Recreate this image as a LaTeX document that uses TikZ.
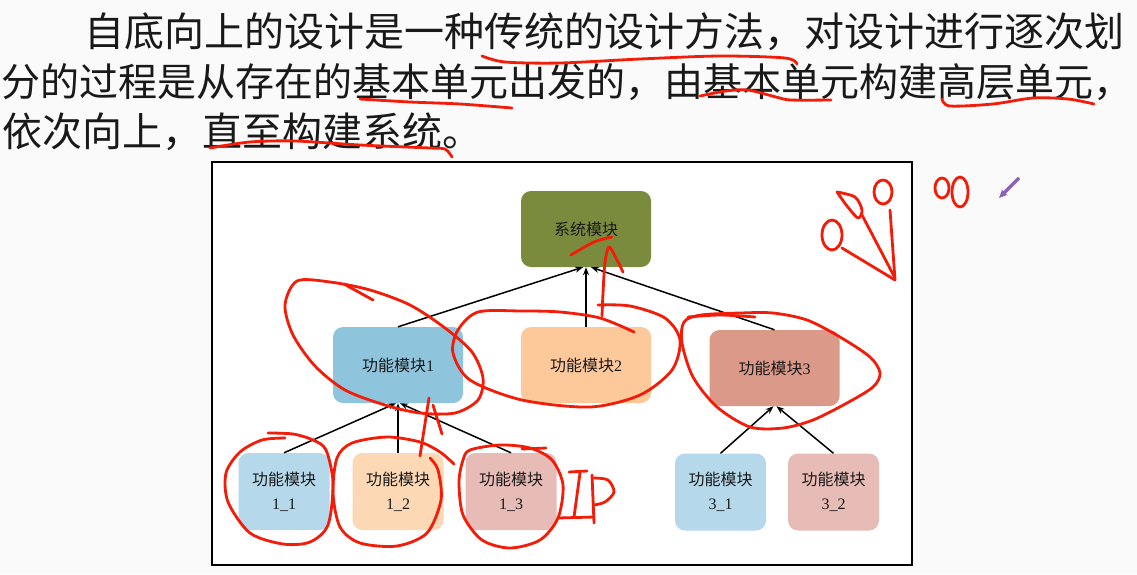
\documentclass[tikz,border=0pt]{standalone}
\usepackage{fontspec}
\setmainfont{Liberation Serif}
\newfontfamily\cjk{Noto Sans CJK SC}
\usetikzlibrary{arrows.meta}
\definecolor{inkred}{RGB}{242,28,8}
\definecolor{sysc}{HTML}{7A8B3E}
\definecolor{mA}{HTML}{8FC5DC}
\definecolor{mB}{HTML}{FDC99B}
\definecolor{mC}{HTML}{DB998A}
\definecolor{sA}{HTML}{B5D8EA}
\definecolor{sB}{HTML}{FDD8B5}
\definecolor{sC}{HTML}{E7BBB6}
\definecolor{penpurple}{HTML}{8A62B8}
\definecolor{slidebg}{HTML}{FAFAFA}
\begin{document}
\begin{tikzpicture}[x=1pt,y=-1pt,
  toptext/.style={inner sep=0pt, anchor=base west, text=black!90, font=\fontsize{40}{40}\selectfont\cjk},
  modbox/.style={rounded corners=10pt, minimum width=130pt, minimum height=76pt, inner sep=0pt, align=center, text=black!90, font=\fontsize{16}{24}\selectfont},
  subbox/.style={rounded corners=10pt, minimum width=91pt, minimum height=77pt, inner sep=0pt, align=center, text=black!90, font=\fontsize{16}{24}\selectfont},
  conn/.style={draw=black, line width=1.5pt, -{Stealth[length=8pt,width=6pt]}},
  ink/.style={draw=inkred, line width=2.8pt, line cap=round, line join=round}]
\useasboundingbox (0,0) rectangle (1137,574);
\fill[slidebg] (0,0) rectangle (1137,574);

% slide text
\node[toptext] (l1) at (84,46) {自底向上的设计是一种传统的设计方法，对设计进行逐次划};
\node[toptext, font=\fontsize{39}{39}\selectfont\cjk] (l2) at (1,96) {分的过程是从存在的基本单元出发的，由基本单元构建高层单元，};
\node[toptext] (l3) at (2,146) {依次向上，直至构建系统。};

% frame
\node[draw=black, line width=1.5pt, fill=white, minimum width=700pt, minimum height=403pt, inner sep=0pt] (frame) at (562,363.5) {};

% boxes
\node[modbox, fill=sysc] (sys) at (586,229) {{\cjk 系统模块}};
\node[modbox, fill=mA] (m1) at (398,365) {{\cjk 功能模块}1};
\node[modbox, fill=mB] (m2) at (586,365) {{\cjk 功能模块}2};
\node[modbox, fill=mC] (m3) at (774.5,368) {{\cjk 功能模块}3};
\node[subbox, fill=sA] (b11) at (284,491.5) {{\cjk 功能模块}\\1\_1};
\node[subbox, fill=sB] (b12) at (398,491.5) {{\cjk 功能模块}\\1\_2};
\node[subbox, fill=sC] (b13) at (511,491.5) {{\cjk 功能模块}\\1\_3};
\node[subbox, fill=sA] (b31) at (720.5,492) {{\cjk 功能模块}\\3\_1};
\node[subbox, fill=sC] (b32) at (833.5,492) {{\cjk 功能模块}\\3\_2};

% connectors
\draw[conn] (m1.north) -- ([xshift=-3pt]sys.south);
\draw[conn] (m2.north) -- (sys.south);
\draw[conn] (m3.north) -- ([xshift=5pt]sys.south);
\draw[conn] (b11.north) -- ([xshift=-2pt]m1.south);
\draw[conn] (b12.north) -- (m1.south);
\draw[conn] (b13.north) -- ([xshift=2pt]m1.south);
\draw[conn] (b31.north) -- ([xshift=-1pt]m3.south);
\draw[conn] (b32.north) -- ([xshift=2pt]m3.south);

% red ink: underlines
\draw[ink] plot[smooth] coordinates {(482,56) (505,62) (560,63) (640,59) (720,56) (785,58) (797,64)};
\draw[ink] plot[smooth] coordinates {(360,99) (410,102) (460,104) (512,108)};
\draw[ink] plot[smooth] coordinates {(700,96) (726,91) (748,90) (776,97) (791,100) (831,100)};
\draw[ink] plot[smooth] coordinates {(942,99) (950,106) (993,104) (1033,98) (1068,99) (1094,104)};
\draw[ink] plot[smooth] coordinates {(210,148) (250,142) (295,141) (360,145) (430,148) (445,149) (452,157)};

% red ink: diagram
\draw[ink] plot[smooth] coordinates {(571,255) (594,242) (612,237)};
\draw[ink] plot[smooth] coordinates {(602,316) (603,293) (605,262) (609,247) (616,258) (623,272)};
\draw[ink] plot[smooth] coordinates {(634,332) (600,318) (560,312) (522,311) (478,312) (458,330) (453,353) (470,380) (522,400) (590,407) (640,395) (672,370) (680,340) (665,318) (630,306) (598,305)};
\draw[ink] (344,284) -- (373,300);
\draw[ink] plot[smooth cycle] coordinates {(297,281) (330,282) (370,290) (410,305) (445,328) (472,352) (483,378) (478,400) (455,413) (420,413) (385,405) (345,390) (315,366) (293,335) (285,305)};
\draw[ink] plot[smooth] coordinates {(688,317) (720,315) (755,317)};
\draw[ink] plot[smooth cycle] coordinates {(701,315) (740,313) (773,313) (807,320) (840,337) (870,357) (880,373) (873,387) (847,403) (813,420) (783,428) (750,427) (717,407) (693,377) (682,343) (684,322)};
\draw[ink] plot[smooth] coordinates {(429,398) (424,430) (420,456)};
\draw[ink] (433,405) -- (442,434);
\draw[ink] plot[smooth] coordinates {(268,433) (293,434) (313,440) (326,450) (333,483) (328,525) (310,542) (283,544) (250,533) (228,502) (226,473) (240,452) (262,440) (285,438)};
\draw[ink] plot[smooth] coordinates {(454,464) (440,452) (420,442) (387,437) (352,443) (337,458) (333,493) (340,527) (360,543) (397,546) (427,533) (441,500) (438,470) (430,458)};
\draw[ink] (522,449) -- (546,448);
\draw[ink] plot[smooth cycle] coordinates {(470,450) (500,445) (530,448) (552,460) (563,485) (558,518) (540,540) (510,548) (482,540) (463,515) (459,482) (463,460)};
% IP
\draw[ink] (569,472) -- (587,471);
\draw[ink] (580,473) -- (574,517);
\draw[ink] (558,518) -- (594,517);
\draw[ink] (592,475) -- (594,523);
\draw[ink] plot[smooth] coordinates {(594,478) (608,480) (614,492) (605,502) (594,505)};
% top-right figure
\draw[ink] (883,192) ellipse[x radius=9, y radius=12];
\draw[ink] (832,235) ellipse[x radius=10, y radius=15];
\draw[ink] plot[smooth] coordinates {(837,192) (855,197) (862,210) (858,218) (847,206) (837,192)};
\draw[ink] (890,210) -- (895,280);
\draw[ink] (862,215) -- (895,278);
\draw[ink] (842,248) -- (895,280);
\draw[ink] (942,188) ellipse[x radius=7, y radius=10];
\draw[ink] (960,192) ellipse[x radius=8, y radius=15];
% pen cursor
\draw[penpurple, line width=3.5pt] (1004,193) -- (1019,178);
\fill[penpurple] (999,198) -- (1002,190) -- (1007,195) -- cycle;
\end{tikzpicture}
\end{document}
